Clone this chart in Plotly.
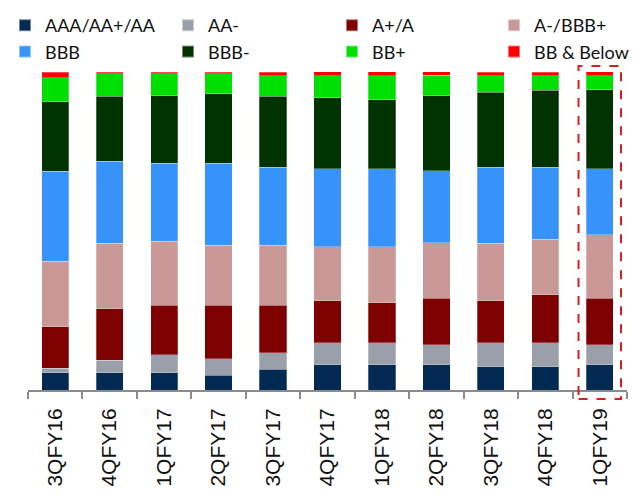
import plotly.graph_objects as go

categories = ["3QFY16", "4QFY16", "1QFY17", "2QFY17", "3QFY17", "4QFY17",
              "1QFY18", "2QFY18", "3QFY18", "4QFY18", "1QFY19"]

aaa = [5.4, 5.4, 5.4, 4.7, 6.6, 8.0, 8.0, 8.0, 7.3, 7.3, 8.0]
aa_minus = [1.4, 3.9, 5.7, 5.2, 5.1, 6.9, 6.9, 6.3, 7.5, 7.5, 6.3]
a_plus_a = [13.1, 16.2, 15.6, 16.8, 15.0, 13.2, 12.6, 14.5, 13.2, 15.1, 14.5]
a_minus_bbb_plus = [20.6, 20.6, 20.1, 18.8, 18.8, 16.9, 17.5, 17.5, 18.1, 17.5, 20.0]
bbb = [28.3, 25.8, 24.5, 25.8, 24.5, 24.5, 24.5, 22.6, 23.9, 22.6, 20.7]
bbb_minus = [21.8, 20.5, 21.2, 21.8, 22.4, 22.4, 21.8, 23.7, 23.7, 24.3, 24.9]
bb_plus = [7.6, 7.0, 7.0, 6.4, 6.4, 7.0, 7.6, 6.4, 5.1, 4.5, 4.5]
bb_below = [1.8, 0.5, 0.5, 0.5, 1.2, 1.2, 1.2, 1.2, 1.2, 1.2, 1.2]

series_names = ["AAA/AA+/AA", "AA-", "A+/A", "A-/BBB+", "BBB", "BBB-", "BB+", "BB & Below"]
series_values = [aaa, aa_minus, a_plus_a, a_minus_bbb_plus, bbb, bbb_minus, bb_plus, bb_below]
colors = ["#022a52", "#9b9faa", "#7f0000", "#c99897", "#3792fa", "#003300", "#00e000", "#ff0000"]

highlight_category = "1QFY19"

legend_ids = ["legend", "legend2", "legend3", "legend4"]

fig = go.Figure()
for i, (name, vals, col) in enumerate(zip(series_names, series_values, colors)):
    fig.add_trace(go.Bar(
        x=categories, y=vals, name=name,
        legend=legend_ids[i % 4],
        marker=dict(color=col, line=dict(color="rgba(255,255,255,0.45)", width=0.6)),
    ))

hi = categories.index(highlight_category)
fig.add_shape(type="rect", xref="x", yref="paper",
              x0=hi - 0.39, x1=hi + 0.39, y0=-0.028, y1=1.019,
              line=dict(color="#d42020", width=2, dash="dash"),
              fillcolor="rgba(0,0,0,0)", layer="above")

W, H = 641, 494
legend_style = dict(
    orientation="v", xref="container", yref="container",
    xanchor="left", yanchor="top",
    font=dict(family="Lato, Carlito, sans-serif", size=18, color="#111"),
    traceorder="normal", itemsizing="constant",
    bgcolor="rgba(0,0,0,0)", tracegroupgap=0,
)
col_px = [5, 168, 332, 494]
legends = {}
for lid, px in zip(legend_ids, col_px):
    legends[lid] = dict(legend_style, x=px / W, y=1.0 - 7 / H)

fig.update_layout(
    barmode="stack",
    bargap=0.5,
    width=W, height=H,
    margin=dict(l=28, r=14, t=72, b=104, autoexpand=False),
    paper_bgcolor="white", plot_bgcolor="white",
    font=dict(family="Liberation Sans, Arial, sans-serif", color="#111"),
    showlegend=True,
    xaxis=dict(
        type="category", tickangle=-90, tickson="boundaries",
        range=[-0.5, len(categories) - 0.5],
        ticks="outside", ticklen=7, tickwidth=2, tickcolor="#8c8c8c",
        ticklabelstandoff=8,
        showline=True, linecolor="#8c8c8c", linewidth=2,
        showgrid=False, zeroline=False,
        tickfont=dict(family="Liberation Sans, Arial, sans-serif", size=21, color="#111"),
    ),
    yaxis=dict(range=[0, 100], visible=False, showgrid=False, zeroline=False),
    **legends,
)

fig.write_html("out.html", config={"displayModeBar": False},
               post_script="document.body.style.margin='0';")
